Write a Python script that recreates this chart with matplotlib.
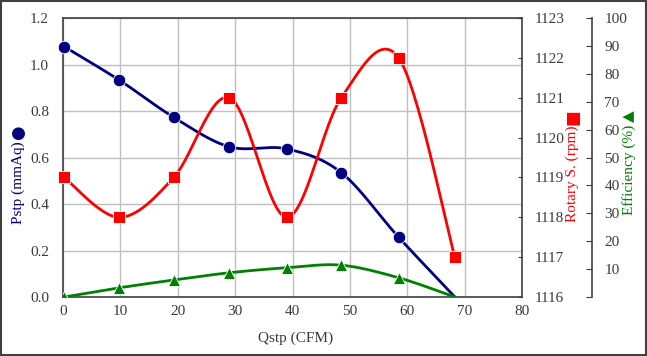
import numpy as np
import matplotlib
matplotlib.use("Agg")
import matplotlib.pyplot as plt

# data
qstp = [0.2, 9.8, 19.3, 29.0, 39.0, 48.5, 58.5, 68.3]
pstp = [1.077, 0.933, 0.773, 0.646, 0.637, 0.535, 0.257, 0.0]
rpm = [1119, 1118, 1119, 1121, 1118, 1121, 1122, 1117]
eff = [0.0, 3.3, 6.1, 8.7, 10.5, 11.4, 6.9, 0.0]

x_ticks = [0, 10, 20, 30, 40, 50, 60, 70, 80]
p_ticks = [0.0, 0.2, 0.4, 0.6, 0.8, 1.0, 1.2]
r_ticks = [1116, 1117, 1118, 1119, 1120, 1121, 1122, 1123]
e_ticks = [0, 10, 20, 30, 40, 50, 60, 70, 80, 90, 100]

BLUE = "#000080"
RED = "#ff0000"
GREEN = "#008000"
TXT = "#3a3a3a"
FONT = ["Liberation Serif", "DejaVu Sans"]

plt.rcParams["font.family"] = FONT
plt.rcParams["font.size"] = 11


def smooth(xs, ys, n=30):
    # Excel-style smoothed line (Catmull-Rom bezier through the points)
    p = np.column_stack([xs, ys]).astype(float)
    p = np.vstack([p[0], p, p[-1]])
    t = np.linspace(0, 1, n)[:, None]
    out = []
    for i in range(1, len(p) - 2):
        p0, p1 = p[i], p[i + 1]
        c1 = p0 + (p[i + 1] - p[i - 1]) / 6
        c2 = p1 - (p[i + 2] - p[i]) / 6
        seg = ((1 - t) ** 3) * p0 + 3 * ((1 - t) ** 2) * t * c1 + 3 * (1 - t) * t ** 2 * c2 + t ** 3 * p1
        out.append(seg)
    out = np.vstack(out)
    return out[:, 0], out[:, 1]


fig = plt.figure(figsize=(6.47, 3.56), dpi=100)
ax = fig.add_axes([0.0974, 0.1657, 0.7094, 0.7837])

ax.set_xlim(0, 80)
ax.set_ylim(0, 1.2)
ax.set_xticks(x_ticks)
ax.set_yticks(p_ticks)
ax.set_yticklabels([f"{v:.1f}" for v in p_ticks])
ax.grid(True, color="#c0c0c0", linewidth=1.0)
ax.set_axisbelow(True)
ax.tick_params(axis="both", length=0, colors=TXT, labelsize=11)
ax.tick_params(axis="y", pad=10)
ax.tick_params(axis="x", pad=6)
for s in ax.spines.values():
    s.set_color("#404040")
    s.set_linewidth(1.2)

# the shut-off point (last one) has no marker in the original
marked = list(range(len(qstp) - 1))

sx, sy = smooth(qstp, pstp)
ax.plot(sx, sy, color=BLUE, linewidth=2.0, zorder=3)
ax.plot(qstp, pstp, linestyle="none", marker="o", markersize=9, color=BLUE,
        markeredgecolor="white", markeredgewidth=0.6, zorder=4, clip_on=False,
        markevery=marked)

# rotary speed axis
ax2 = ax.twinx()
ax2.set_ylim(1116, 1123)
ax2.set_yticks(r_ticks)
ax2.tick_params(axis="y", direction="in", length=3, colors=TXT, labelsize=11, pad=9)
for s in ax2.spines.values():
    s.set_visible(False)
rx, ry = smooth(qstp, rpm)
ax2.plot(rx, ry, color=RED, linewidth=2.0, zorder=3)
ax2.plot(qstp, rpm, linestyle="none", marker="s", markersize=8.5, color=RED,
         markeredgecolor="white", markeredgewidth=0.6, zorder=4, clip_on=False)

# efficiency axis
ax3 = ax.twinx()
ax3.set_ylim(0, 100)
ax3.set_yticks(e_ticks)
ax3.set_yticklabels(["" if v == 0 else str(v) for v in e_ticks])
ax3.spines["right"].set_position(("axes", 1.1525))
for k in ["left", "top", "bottom"]:
    ax3.spines[k].set_visible(False)
ax3.spines["right"].set_color("#404040")
ax3.spines["right"].set_linewidth(1.2)
ax3.tick_params(axis="y", direction="in", length=4, colors=TXT, labelsize=11, pad=9)
ex, ey = smooth(qstp, eff)
ax3.plot(ex, ey, color=GREEN, linewidth=2.0, zorder=3)
ax3.plot(qstp, eff, linestyle="none", marker="^", markersize=8.5, color=GREEN,
         markeredgecolor="white", markeredgewidth=0.6, zorder=4, clip_on=True,
         markevery=marked)

# axis titles, each with its series symbol above
H = 356.0
fig.text(296 / 647, 1 - 338 / H, "Qstp (CFM)", ha="center", va="center",
         color=TXT, fontsize=11)
fig.text(18 / 647, 1 - 183 / H, "Pstp (mmAq)", rotation=90, ha="center", va="center",
         color=BLUE, fontsize=11)
fig.text(18 / 647, 1 - 133 / H, "●", rotation=90, ha="center", va="center",
         color=BLUE, fontsize=12, family=["DejaVu Sans"])
fig.text(572 / 647, 1 - 174 / H, "Rotary S. (rpm)", rotation=90, ha="center", va="center",
         color=RED, fontsize=11)
fig.text(572 / 647, 1 - 117 / H, "■", rotation=90, ha="center", va="center",
         color=RED, fontsize=12, family=["DejaVu Sans"])
fig.text(629 / 647, 1 - 170 / H, "Efficiency (%)", rotation=90, ha="center", va="center",
         color=GREEN, fontsize=11)
fig.text(629 / 647, 1 - 116 / H, "▲", rotation=90, ha="center", va="center",
         color=GREEN, fontsize=11, family=["DejaVu Sans"])

# outer frame
fig.patches.append(plt.Rectangle((0.001, 0.002), 0.997, 0.995, transform=fig.transFigure,
                                 fill=False, edgecolor="#404040", linewidth=1.5))

fig.savefig("out.png", dpi=100)
